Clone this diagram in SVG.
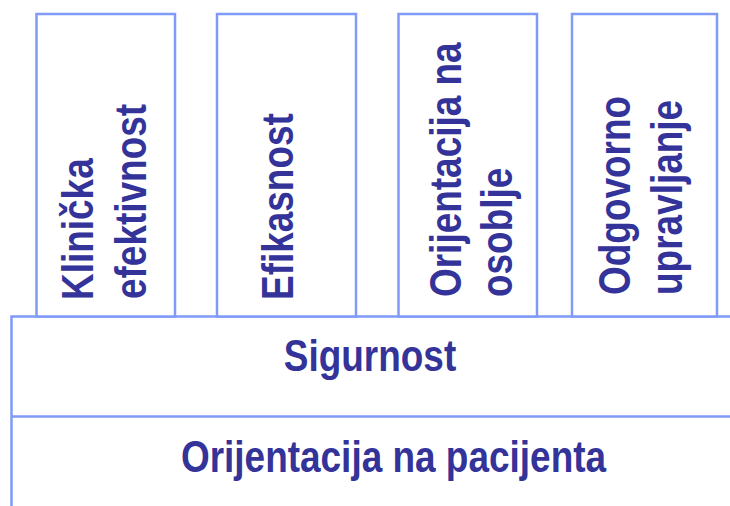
<svg xmlns="http://www.w3.org/2000/svg" width="730" height="506" viewBox="0 0 730 506">
<style>
.box{fill:#ffffff;stroke:#809bf7;stroke-width:2.5}
.t{font-family:"Liberation Sans",Arial,sans-serif;font-weight:bold;font-size:44px;fill:#333399}
.c{text-anchor:middle}
</style>
<rect x="0" y="0" width="730" height="506" fill="#ffffff"/>
<g id="base">
<path class="box" d="M735,316.5 H11.5 V512"/>
<path class="box" d="M11.5,416.5 H735"/>
<text class="t c" transform="translate(370,371) scale(0.84,1)">Sigurnost</text>
<text class="t c" transform="translate(393.5,472) scale(0.84,1)">Orijentacija na pacijenta</text>
</g>
<g id="pillar1">
<rect class="box" x="36.5" y="14" width="138.5" height="302.5"/>
<text class="t" transform="translate(93,300) rotate(-90) scale(0.84,1)">Klinička</text>
<text class="t" transform="translate(146,299) rotate(-90) scale(0.84,1)">efektivnost</text>
</g>
<g id="pillar2">
<rect class="box" x="217" y="14" width="139" height="302.5"/>
<text class="t" transform="translate(293,300) rotate(-90) scale(0.84,1)">Efikasnost</text>
</g>
<g id="pillar3">
<rect class="box" x="398.5" y="14" width="138.5" height="302.5"/>
<text class="t" transform="translate(461,297) rotate(-90) scale(0.84,1)">Orijentacija na</text>
<text class="t" transform="translate(512,297) rotate(-90) scale(0.84,1)">osoblje</text>
</g>
<g id="pillar4">
<rect class="box" x="572" y="14" width="145" height="302.5"/>
<text class="t" transform="translate(630,295) rotate(-90) scale(0.84,1)">Odgovorno</text>
<text class="t" transform="translate(682,295) rotate(-90) scale(0.84,1)">upravljanje</text>
</g>
</svg>
